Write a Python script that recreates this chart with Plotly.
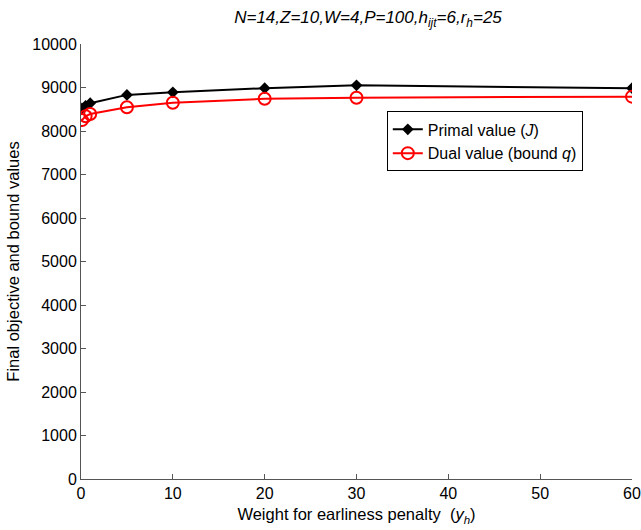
import plotly.graph_objects as go

# Weight for earliness penalty (y_h)
weights = [0.1, 0.5, 1, 5, 10, 20, 30, 60]
# Final primal objective J
primal_values = [8520, 8580, 8640, 8830, 8890, 8985, 9050, 8985]
# Final dual bound q
dual_values = [8250, 8340, 8390, 8545, 8650, 8740, 8766, 8790]

x_ticks = [0, 10, 20, 30, 40, 50, 60]
y_ticks = list(range(0, 10001, 1000))
y_tick_labels = [str(v) for v in y_ticks]

FONT = "Liberation Sans, Arial, Helvetica, sans-serif"
AXIS_COLOR = "#555555"

fig = go.Figure()
fig.add_trace(go.Scatter(
    x=weights, y=primal_values, mode="lines+markers",
    name="Primal value (<i>J</i>)",
    line=dict(color="black", width=2),
    marker=dict(symbol="diamond", size=9, color="black"),
))
fig.add_trace(go.Scatter(
    x=weights, y=dual_values, mode="lines+markers",
    name="Dual value (bound <i>q</i>)",
    line=dict(color="red", width=2),
    marker=dict(symbol="circle-open", size=12, color="red", line=dict(width=2)),
))

fig.update_layout(
    width=641, height=530,
    margin=dict(l=81, r=9, t=44, b=51, autoexpand=False),
    paper_bgcolor="white", plot_bgcolor="white",
    font=dict(family=FONT, size=16, color="black"),
    title=dict(
        text="<i>N=14,Z=10,W=4,P=100,h<sub>ijt</sub>=6,r<sub>h</sub>=25</i>",
        x=368 / 641, xanchor="center",
        y=1 - 17 / 530, yanchor="middle",
        font=dict(size=17),
    ),
    showlegend=True,
    legend=dict(
        x=0.555, y=0.845, xanchor="left", yanchor="top",
        bordercolor="black", borderwidth=1, bgcolor="white",
        font=dict(size=16), tracegroupgap=0, itemwidth=30,
    ),
)

fig.update_xaxes(
    range=[0, 60], tickvals=x_ticks,
    showgrid=False, zeroline=False, automargin=False,
    showline=True, linecolor=AXIS_COLOR, linewidth=1,
    ticks="inside", ticklen=5, tickcolor=AXIS_COLOR,
    tickfont=dict(size=16),
    title=dict(text="Weight for earliness penalty  (<i>y<sub>h</sub></i>)",
               font=dict(size=16.5), standoff=7),
)
fig.update_yaxes(
    range=[0, 10000], tickvals=y_ticks, ticktext=y_tick_labels,
    showgrid=False, zeroline=False, automargin=False,
    showline=True, linecolor=AXIS_COLOR, linewidth=1,
    ticks="inside", ticklen=5, tickcolor=AXIS_COLOR,
    tickfont=dict(size=16),
    title=dict(text="Final objective and bound values",
               font=dict(size=16.5), standoff=8),
)

fig.write_html("out.html")
